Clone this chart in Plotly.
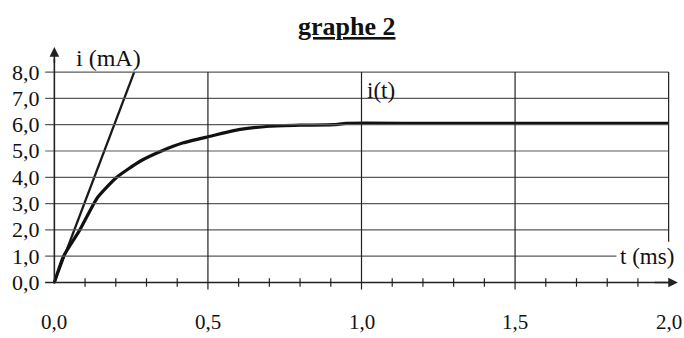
import plotly.graph_objects as go

# ---- data ----
t_curve = [0, 0.03, 0.083, 0.14, 0.203, 0.279, 0.349, 0.42, 0.5, 0.605, 0.70, 0.80, 0.91, 0.95, 1.2, 1.6, 2.0]
i_curve = [0, 1.0, 2.0, 3.22, 4.0, 4.61, 5.0, 5.31, 5.54, 5.82, 5.94, 5.98, 6.0, 6.05, 6.05, 6.05, 6.05]
t_tangent = [0, 0.26]
i_tangent = [0, 8.0]
y_ticks = [0, 1, 2, 3, 4, 5, 6, 7, 8]
y_ticklabels = ["0,0", "1,0", "2,0", "3,0", "4,0", "5,0", "6,0", "7,0", "8,0"]
x_ticks = [0.0, 0.5, 1.0, 1.5, 2.0]
x_ticklabels = ["0,0", "0,5", "1,0", "1,5", "2,0"]
x_minor = [0.1, 0.2, 0.3, 0.4, 0.6, 0.7, 0.8, 0.9, 1.1, 1.2, 1.3, 1.4, 1.6, 1.7, 1.8, 1.9]

FONT = "Liberation Serif, Times New Roman, serif"
GRID = "#5a5a5a"
Y_MIN, Y_MAX = -0.4, 9.6


def ypaper(v):
    return (v - Y_MIN) / (Y_MAX - Y_MIN)


fig = go.Figure()

shapes = []
# horizontal grid lines
for v in y_ticks[1:]:
    x_end = 1.83 if v == 1 else 2.0
    shapes.append(dict(type="line", xref="x", yref="y", x0=-0.03, x1=x_end, y0=v, y1=v,
                       line=dict(color=GRID, width=1.2)))
# vertical grid lines
for v in x_ticks[1:]:
    y_start = 1.55 if v == 2.0 else -0.27
    shapes.append(dict(type="line", xref="x", yref="y", x0=v, x1=v, y0=y_start, y1=8,
                       line=dict(color="#222222", width=1.2)))
# minor ticks on the t axis
for v in x_minor:
    shapes.append(dict(type="line", xref="x", yref="y", x0=v, x1=v, y0=-0.16, y1=0.16,
                       line=dict(color="#222222", width=1.2)))
# axes
shapes.append(dict(type="line", xref="x", yref="y", x0=-0.03, x1=2.0, y0=0, y1=0,
                   line=dict(color="#222222", width=1.6)))
shapes.append(dict(type="line", xref="x", yref="y", x0=0, x1=0, y0=-0.05, y1=8.5,
                   line=dict(color="#222222", width=1.6)))

fig.add_trace(go.Scatter(x=t_tangent, y=i_tangent, mode="lines",
                         line=dict(color="#1a1a1a", width=2.3), showlegend=False, hoverinfo="skip"))
fig.add_trace(go.Scatter(x=t_curve, y=i_curve, mode="lines", line_shape="spline",
                         line=dict(color="#111111", width=3.2, smoothing=0.5),
                         showlegend=False))

ann = []
for v, lab in zip(y_ticks, y_ticklabels):
    ann.append(dict(x=-0.04, y=v, xref="x", yref="y", text=lab, showarrow=False,
                    xanchor="right", yanchor="middle", font=dict(family=FONT, size=22, color="#111")))
for v, lab in zip(x_ticks, x_ticklabels):
    ann.append(dict(x=v, y=ypaper(-1.52), xref="x", yref="paper", text=lab, showarrow=False,
                    xanchor="center", yanchor="middle", font=dict(family=FONT, size=21, color="#111")))
# axis arrows
ann.append(dict(x=0, y=8.95, ax=0, ay=8.3, xref="x", yref="y", axref="x", ayref="y",
                text="", showarrow=True, arrowhead=2, arrowsize=1.2, arrowwidth=1.6, arrowcolor="#222"))
ann.append(dict(x=2.03, y=0, ax=1.95, ay=0, xref="x", yref="y", axref="x", ayref="y",
                text="", showarrow=True, arrowhead=2, arrowsize=1.2, arrowwidth=1.6, arrowcolor="#222"))
ann.append(dict(x=0.175, y=8.55, xref="x", yref="y", text="i (mA)", showarrow=False,
                xanchor="center", yanchor="middle", font=dict(family=FONT, size=24, color="#111")))
ann.append(dict(x=1.93, y=0.99, xref="x", yref="y", text="t (ms)", showarrow=False,
                xanchor="center", yanchor="middle", font=dict(family=FONT, size=23, color="#111")))
ann.append(dict(x=1.063, y=7.3, xref="x", yref="y", text="i(t)", showarrow=False,
                xanchor="center", yanchor="middle", font=dict(family=FONT, size=23, color="#111")))
ann.append(dict(x=0.953, y=ypaper(9.73), xref="x", yref="paper", text="<b>graphe 2</b>", showarrow=False,
                xanchor="center", yanchor="middle",
                font=dict(family=FONT, size=26, color="#111", lineposition="under")))

fig.update_layout(
    width=684, height=338,
    margin=dict(l=39, r=0, t=30, b=45),
    paper_bgcolor="white", plot_bgcolor="white",
    xaxis=dict(range=[-0.05, 2.05], visible=False, fixedrange=True),
    yaxis=dict(range=[Y_MIN, Y_MAX], visible=False, fixedrange=True),
    shapes=shapes, annotations=ann, showlegend=False,
)
fig.write_html(
    "out.html",
    config={"displayModeBar": False},
    post_script="document.body.style.margin='0';document.body.style.overflow='hidden';",
)
